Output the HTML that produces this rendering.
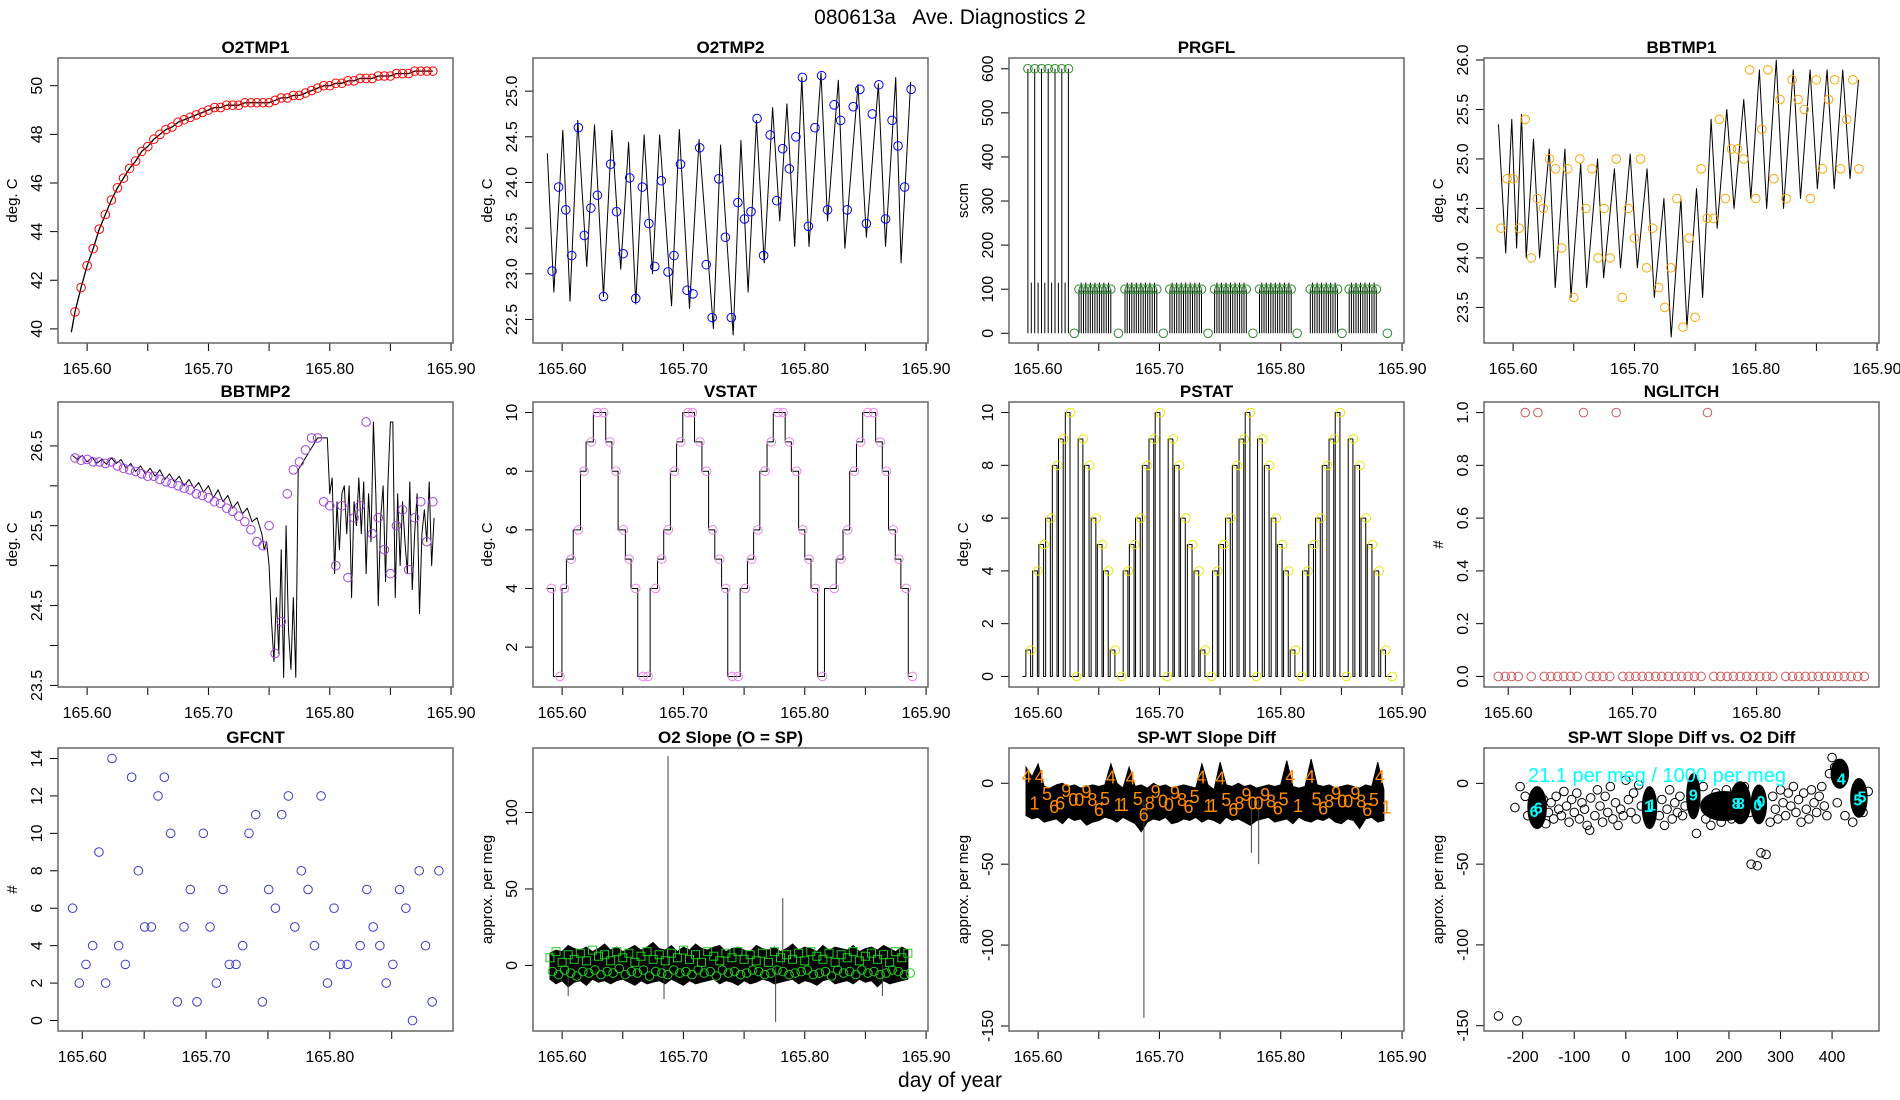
<!DOCTYPE html>
<html><head><meta charset="utf-8"><title>080613a Ave. Diagnostics 2</title>
<style>
html,body{margin:0;padding:0;background:#fff;}
svg{display:block;font-family:"Liberation Sans",Arial,sans-serif;}
</style></head>
<body>
<svg id="chart" xmlns="http://www.w3.org/2000/svg" width="1900" height="1100" viewBox="0 0 1900 1100">
<rect x="0" y="0" width="1900" height="1100" fill="#fff"/>
<text x="950" y="24" font-size="21" text-anchor="middle" style="white-space:pre" xml:space="preserve">080613a   Ave. Diagnostics 2</text>
<text x="950" y="1087" font-size="21" text-anchor="middle">day of year</text>
</svg>
<script>
// ---------- data ----------
const sampleT=[165.590,165.595,165.600,165.605,165.610,165.615,165.620,165.625,165.630,165.635,
165.640,165.645,165.650,165.655,165.660,165.665,165.670,165.675,165.680,165.685,
165.690,165.695,165.700,165.705,165.710,165.715,165.720,165.725,165.730,165.735,
165.740,165.745,165.750,165.755,165.760,165.765,165.770,165.775,165.780,165.785,
165.790,165.795,165.800,165.805,165.810,165.815,165.820,165.825,165.830,165.835,
165.840,165.845,165.850,165.855,165.860,165.865,165.870,165.875,165.880,165.885];
const o2tmp1Start=[165.587,39.86];
const o2tmp1Vals=[40.7,41.7,42.6,43.3,44.1,44.7,45.3,45.8,46.2,46.6,
46.9,47.3,47.5,47.8,48.0,48.2,48.3,48.5,48.6,48.7,
48.8,48.9,49.0,49.1,49.1,49.2,49.2,49.2,49.3,49.3,
49.3,49.3,49.3,49.4,49.5,49.5,49.6,49.6,49.7,49.8,
49.9,50.0,50.0,50.1,50.1,50.2,50.2,50.3,50.3,50.3,
50.4,50.4,50.4,50.5,50.5,50.5,50.6,50.6,50.6,50.6];

const o2tmp2LineT=[165.5878,165.5932,165.6006,165.6065,165.6129,165.6203,165.6267,165.6341,165.6410,165.6483,165.6548,165.6607,165.6676,165.6745,165.6804,165.6902,165.6966,165.7050,165.7129,165.7247,165.7306,165.7410,165.7474,165.7533,165.7602,165.7666,165.7735,165.7794,165.7853,165.7917,165.7976,165.8035,165.8134,165.8188,165.8277,165.8331,165.8439,165.8508,165.8607,165.8666,165.8750,165.8794,165.8873];
const o2tmp2LineV=[24.32,22.8,24.57,22.7,24.68,23.08,24.63,22.75,24.57,23.05,24.44,22.67,24.52,23.0,24.52,22.65,24.58,22.62,24.47,22.4,24.41,22.33,24.46,22.8,24.68,23.12,24.82,23.58,24.86,23.3,25.15,23.3,25.2,23.58,25.12,23.28,25.07,23.4,25.08,23.3,25.15,23.12,25.1];
const o2tmp2PtT=[165.5917,165.5971,165.6030,165.6079,165.6134,165.6183,165.6237,165.6291,165.6341,165.6400,165.6449,165.6503,165.6557,165.6607,165.6661,165.6715,165.6764,165.6818,165.6873,165.6922,165.6976,165.7030,165.7079,165.7134,165.7188,165.7237,165.7291,165.7346,165.7395,165.7449,165.7503,165.7557,165.7607,165.7661,165.7715,165.7769,165.7818,165.7873,165.7927,165.7981,165.8030,165.8084,165.8139,165.8188,165.8242,165.8296,165.8350,165.8400,165.8454,165.8508,165.8557,165.8611,165.8666,165.8720,165.8769,165.8823,165.8877];
const o2tmp2PtV=[23.03,23.95,23.7,23.2,24.6,23.42,23.72,23.86,22.75,24.2,23.68,23.22,24.05,22.73,23.95,23.55,23.08,24.02,23.02,23.2,24.2,22.82,22.78,24.38,23.1,22.52,24.04,23.4,22.52,23.78,23.6,23.68,24.7,23.2,24.52,23.8,24.37,24.15,24.5,25.15,23.52,24.6,25.17,23.7,24.85,24.68,23.7,24.83,25.02,23.55,24.75,25.07,23.6,24.68,24.4,23.95,25.02];

const prgflT=[165.5916,165.5972,165.6028,165.6083,165.6139,165.6195,165.6250,
165.6298,165.6337,165.6374,165.6412,165.6449,165.6487,165.6524,165.6561,165.6599,
165.6662,165.6716,165.6753,165.6791,165.6828,165.6866,165.6903,165.6940,165.6978,
165.7032,165.7086,165.7123,165.7161,165.7198,165.7235,165.7273,165.7310,165.7347,
165.7401,165.7455,165.7492,165.7530,165.7567,165.7604,165.7642,165.7679,165.7716,
165.7771,165.7825,165.7862,165.7899,165.7937,165.7974,165.8011,165.8049,165.8086,
165.8135,165.8244,165.8281,165.8318,165.8356,165.8393,165.8430,165.8468,
165.8505,165.8564,165.8601,165.8639,165.8676,165.8713,165.8751,165.8788,165.8879];
const prgflV=[600,600,600,600,600,600,600,
0,100,100,100,100,100,100,100,100,
0,100,100,100,100,100,100,100,100,
0,100,100,100,100,100,100,100,100,
0,100,100,100,100,100,100,100,100,
0,100,100,100,100,100,100,100,100,
0,100,100,100,100,100,100,100,
0,100,100,100,100,100,100,100,0];

const bbtmp1LineT=[165.5879,165.5939,165.5989,165.6029,165.6069,165.6108,165.6168,165.6218,165.6298,165.6347,165.6427,165.6477,165.6557,165.6606,165.6696,165.6746,165.6835,165.6885,165.6965,165.7024,165.7104,165.7164,165.7243,165.7303,165.7383,165.7433,165.7512,165.7562,165.7632,165.7682,165.7761,165.7821,165.7901,165.7960,165.8030,165.8090,165.8169,165.8229,165.8309,165.8369,165.8448,165.8508,165.8588,165.8647,165.8717,165.8777,165.8847];
const bbtmp1LineV=[25.35,24.05,25.4,24.1,25.45,24.0,25.2,24.0,25.1,23.7,25.1,23.6,24.95,23.7,25.0,23.8,24.9,23.9,25.05,23.9,24.9,23.6,24.6,23.2,24.6,23.3,24.7,23.6,25.4,24.3,25.5,24.5,25.6,24.6,25.9,24.5,26.0,24.5,25.9,24.6,25.9,24.7,25.9,24.7,25.9,24.8,25.8];
const bbtmp1PtV=[24.3,24.8,24.8,24.3,25.4,24.0,24.6,24.5,25.0,24.9,24.1,24.9,23.6,25.0,24.5,24.9,24.0,24.5,24.0,25.0,23.6,24.5,24.2,25.0,23.9,24.3,23.7,23.5,23.9,24.6,23.3,24.2,23.4,24.9,24.4,24.4,25.4,24.6,25.1,25.1,25.0,25.9,24.6,25.3,25.9,24.8,25.6,24.6,25.8,25.6,25.5,24.6,25.8,24.9,25.6,25.8,24.9,25.4,25.8,24.9];

const bbtmp2LineT=[165.588,165.592,165.596,165.600,165.604,165.608,165.612,165.616,165.620,165.624,165.628,165.632,165.636,165.640,165.644,165.648,165.652,165.656,165.660,165.664,165.668,165.672,165.676,165.680,165.684,165.688,165.692,165.696,165.700,165.704,165.708,165.712,165.716,165.720,165.724,165.728,165.732,165.736,165.740,165.744,
165.746,165.748,165.750,165.752,165.754,165.756,165.758,165.760,165.762,165.764,165.766,165.768,165.770,165.772,165.774,165.776,165.778,165.780,165.782,165.784,165.786,165.788,165.790,165.792,165.794,165.796,165.798,165.800,165.802,165.804,165.806,165.808,165.810,165.812,165.814,165.816,165.818,165.820,165.822,165.824,165.826,165.828,165.830,165.832,165.834,165.836,165.838,165.840,165.842,165.844,165.846,165.848,165.850,165.852,165.854,165.856,165.858,165.860,165.862,165.864,165.866,165.868,165.870,165.872,165.874,165.876,165.878,165.880,165.882,165.884,165.886];
const bbtmp2LineV=[26.38,26.33,26.38,26.30,26.36,26.28,26.33,26.27,26.35,26.28,26.33,26.22,26.28,26.18,26.25,26.15,26.22,26.12,26.2,26.08,26.15,26.05,26.12,26.0,26.08,25.97,26.04,25.92,26.0,25.85,25.95,25.8,25.88,25.72,25.8,25.65,25.72,25.55,25.6,25.4,
25.2,25.3,25.0,24.3,23.8,24.6,23.9,25.2,23.6,25.5,24.2,23.7,24.6,23.6,26.2,26.25,26.3,26.35,26.4,26.45,26.5,26.55,26.6,26.6,26.6,26.6,26.6,25.9,26.1,24.9,25.8,25.2,25.9,26.0,25.4,26.0,24.6,25.8,25.5,26.1,25.4,26.05,24.9,25.9,25.3,26.8,25.9,24.5,25.6,26.0,24.8,26.05,26.8,26.8,24.6,25.9,25.0,25.8,25.3,24.9,26.05,24.7,25.4,25.9,24.4,25.4,25.7,25.3,26.05,25.0,25.6];
const bbtmp2PtV=[26.35,26.32,26.33,26.3,26.3,26.28,26.3,26.25,26.22,26.2,26.18,26.15,26.12,26.12,26.08,26.05,26.03,26.0,25.97,25.95,25.9,25.88,25.85,25.8,25.78,25.72,25.68,25.62,25.55,25.45,25.3,
25.25,25.5,23.9,24.3,25.9,26.2,26.3,26.45,26.6,26.6,25.8,25.75,25.0,25.75,24.85,25.6,25.75,26.8,25.4,25.6,25.2,24.9,25.5,25.7,24.95,25.6,25.8,25.3,25.8];

const vstatT=[165.5912,165.5982,165.6019,165.6075,165.6135,165.6181,165.6241,165.6292,165.6343,165.6394,165.6445,165.6505,165.6552,165.6607,165.6668,165.6709,165.6770,165.6821,165.6876,165.6927,165.6978,165.7038,165.7075,165.7136,165.7191,165.7242,165.7298,165.7349,165.7404,165.7451,165.7511,165.7562,165.7613,165.7673,165.7724,165.7780,165.7822,165.7873,165.7933,165.7984,165.8035,165.8090,165.8146,165.8243,165.8299,165.8354,165.8410,165.8461,165.8521,165.8568,165.8623,165.8674,165.8730,165.8776,165.8837,165.8887];
const vstatV=[4,1,4,5,6,8,9,10,10,9,8,6,5,4,1,1,4,5,6,8,9,10,10,9,8,6,5,4,1,1,4,5,6,8,9,10,10,9,8,6,5,4,1,4,5,6,8,9,10,10,9,8,6,5,4,1];

const pstatT=[165.5942,165.5998,165.6049,165.6105,165.6160,165.6211,165.6267,165.6318,165.6373,165.6424,165.6480,165.6531,165.6582,165.6637,165.6688,165.6744,165.6795,165.6846,165.6902,165.6957,165.7008,165.7064,165.7115,165.7166,165.7217,165.7273,165.7328,165.7379,165.7430,165.7481,165.7532,165.7588,165.7644,165.7699,165.7750,165.7801,165.7852,165.7908,165.7964,165.8015,165.8066,165.8121,165.8172,165.8223,165.8274,165.8330,165.8385,165.8441,165.8492,165.8543,165.8599,165.8654,165.8705,165.8756,165.8812,165.8867,165.8918];
const pstatV=[1,4,5,6,8,9,10,0,9,8,6,5,4,1,0,4,5,6,8,9,10,0,9,8,6,5,4,1,0,4,5,6,8,9,10,0,9,8,6,5,4,1,0,4,5,6,8,9,10,0,9,8,6,5,4,1,0];

const nglitchT=[165.5920,165.5976,165.6027,165.6081,165.6185,165.6290,165.6343,165.6397,165.6448,165.6502,165.6555,165.6657,165.6711,165.6764,165.6818,165.6923,165.6974,165.7027,165.7078,165.7132,165.7186,165.7236,165.7290,165.7344,165.7395,165.7448,165.7499,165.7553,165.7655,165.7709,165.7762,165.7813,165.7867,165.7920,165.7971,165.8025,165.8079,165.8130,165.8234,165.8288,165.8339,165.8392,165.8446,165.8497,165.8551,165.8602,165.8655,165.8706,165.8760,165.8814,165.8867,
165.6137,165.6239,165.6606,165.6869,165.7604];
const nglitchV=[0,0,0,0,0,0,0,0,0,0,0,0,0,0,0,0,0,0,0,0,0,0,0,0,0,0,0,0,0,0,0,0,0,0,0,0,0,0,0,0,0,0,0,0,0,0,0,0,0,0,0,
1,1,1,1,1];

const gfcntT=[165.5922,165.5976,165.6030,165.6084,165.6135,165.6189,165.6240,165.6294,165.6348,165.6399,165.6453,165.6504,165.6558,165.6612,165.6663,165.6714,165.6768,165.6822,165.6873,165.6927,165.6978,165.7032,165.7083,165.7137,165.7188,165.7242,165.7296,165.7347,165.7401,165.7455,165.7506,165.7560,165.7611,165.7665,165.7717,165.7770,165.7824,165.7876,165.7929,165.7981,165.8034,165.8086,165.8140,165.8245,165.8299,165.8350,165.8404,165.8455,165.8509,165.8563,165.8614,165.8668,165.8722,165.8773,165.8827,165.8881];
const gfcntV=[6,2,3,4,9,2,14,4,3,13,8,5,5,12,13,10,1,5,7,1,10,5,2,7,3,3,4,10,11,1,7,6,11,12,5,8,7,4,12,2,6,3,3,4,7,5,4,2,3,7,6,0,8,4,1,8];

const o2slopeHi=[8,10,9,13,11,10,12,9,11,14,10,12,9,11,13,10,12,15,11,10,13,9,12,10,14,11,10,12,13,9,11,12,10,9,13,11,10,12,9,11,14,10,12,11,9,13,10,12,11,10,13,9,11,12,10,13,11,9,12,10];
const o2slopeLo=[-9,-12,-10,-14,-11,-10,-13,-9,-11,-10,-12,-10,-9,-11,-13,-10,-12,-11,-10,-12,-9,-11,-13,-10,-12,-11,-10,-9,-12,-10,-11,-13,-10,-12,-11,-9,-10,-12,-11,-10,-9,-12,-10,-11,-13,-10,-9,-12,-11,-10,-12,-9,-11,-10,-14,-10,-12,-11,-10,-9];
const o2slopeSq=[5,9,2,7,4,8,3,10,6,7,3,9,5,8,2,6,9,4,7,3,8,5,10,4,7,2,9,6,3,8,5,9,4,7,3,8,2,9,5,7,4,8,3,9,6,4,8,2,7,5,9,3,6,8,4,7,2,9,5,8];
const o2slopeCi=[-4,-6,-3,-5,-7,-4,-5,-3,-6,-4,-5,-2,-6,-4,-5,-3,-7,-4,-5,-6,-3,-5,-4,-6,-3,-5,-4,-7,-3,-5,-4,-6,-5,-3,-4,-6,-5,-3,-4,-6,-5,-4,-3,-6,-5,-4,-7,-3,-5,-4,-6,-3,-5,-4,-6,-5,-3,-4,-6,-5];
const o2slopeSpikeT=[165.6873,165.6840,165.7819,165.7760,165.6050,165.8640];
const o2slopeSpikeV=[137,-22,44,-37,-20,-20];

const spwtHi=[10,4,12,-2,-3,-1,0,-2,-1,-3,-2,-1,-2,-1,12,0,-3,10,-2,-1,-3,0,-2,-1,-3,-2,-1,-2,-3,12,-1,-4,13,-1,-2,0,-2,-1,-3,-2,-1,-2,-1,14,-2,-3,-2,15,-1,-2,-1,-3,-2,-1,-2,-3,-1,-2,13,-4];
const spwtLo=[-20,-22,-21,-24,-23,-22,-25,-21,-23,-22,-26,-24,-23,-21,-22,-24,-21,-23,-25,-30,-24,-22,-23,-21,-25,-24,-22,-23,-21,-24,-22,-23,-25,-21,-23,-22,-24,-26,-23,-22,-21,-24,-23,-22,-25,-21,-23,-24,-22,-23,-21,-24,-25,-22,-23,-28,-22,-21,-24,-23];
const spwtLabT=[165.5906,165.5970,165.6014,165.6073,165.6132,165.6181,165.6231,165.6290,165.6339,165.6398,165.6447,165.6501,165.6551,165.6600,165.6664,165.6708,165.6763,165.6822,165.6871,165.6920,165.6969,165.7029,165.7078,165.7127,165.7186,165.7240,165.7290,165.7344,165.7403,165.7442,165.7502,165.7551,165.7610,165.7659,165.7718,165.7768,165.7817,165.7871,165.7920,165.7975,165.8024,165.8078,165.8142,165.8241,165.8295,165.8349,165.8398,165.8457,165.8507,165.8556,165.8615,165.8664,165.8713,165.8768,165.8817,165.8871];
const spwtLabV=[4.1,-12.4,4,-6.6,-14.8,-12.4,-4.8,-10.3,-10.3,-5.3,-10.3,-16.5,-9.6,3.6,-13.3,-13.3,3,-9.6,-19.5,-12.4,-5.3,-11.4,-13.3,-5.9,-10.3,-14.8,-8.6,3.6,-14,-14,3,-10.3,-16.5,-12.4,-7.3,-12.4,-12.4,-7.3,-11.4,-15.7,-10,4,-14,4,-10,-15.7,-11.4,-6.4,-11.4,-11.4,-6.4,-11.4,-16.5,-10.3,4,-15];
const spwtLabTxt=['4','1','4','5','6','6','9','0','0','9','8','6','5','4','1','1','4','5','6','8','9','0','0','9','8','6','5','4','1','1','4','5','6','8','9','0','0','9','8','6','5','4','1','4','5','6','8','9','0','0','9','8','6','5','4','1'];
const spwtSpikeT=[165.6872,165.7758,165.7818];
const spwtSpikeV=[-145,-43,-50];

const scatX=[-215,-205,-195,-190,-160,-155,-150,-145,-140,-135,-130,-125,-120,-115,-110,-105,-100,-95,-90,-85,-80,-75,-70,-68,-60,-55,-50,-45,-40,-35,-30,-25,-20,-15,-10,-5,0,5,10,15,20,25,30,65,70,75,80,85,90,95,100,105,110,115,137,150,155,160,165,170,175,180,185,195,205,230,240,243,255,262,272,280,285,290,295,300,305,310,315,320,325,330,335,340,345,350,355,360,365,370,375,380,385,390,395,400,405,410,425,440,460,470,-247,-211];
const scatY=[-15,-2,-8,-20,-10,-25,-18,-12,-22,-8,-16,-20,-5,-14,-24,-10,-18,-6,-22,-12,-16,-26,-29,-9,-20,-4,-14,-24,-8,-18,-2,-22,-12,-26,-16,-20,2,-10,-18,-6,-22,-1,-14,-20,-10,-26,-16,-4,-22,-12,-18,-8,-20,-14,-31,-2,-22,-12,-26,-18,-6,-16,-24,-4,-22,-2,-18,-50,-51,-43,-44,-24,-8,-16,-22,-4,-12,-20,-6,-14,-2,-18,-10,-24,-6,-16,-22,-4,-12,-18,-8,-2,-14,-20,6,16,10,-12,-20,-24,-18,-5,-144,-147];
const clusterX=[-172,46,131,190,222,258,415,452];
const clusterY=[-15,-15,-8,-14,-12,-13,6,-9];
const clusterSX=[18,14,13,45,20,15,17,16];
const clusterSY=[13,13,14,9,13,12,9,12];
const clusterLabX=[-178,-170,44,50,131,214,222,256,262,418,450,458];
const clusterLabY=[-17,-15,-14,-13,-7,-12,-12,-13,-11,3,-10,-8];
const clusterLabTxt=['6','6','1','1','9','8','8','0','0','4','5','5'];

// ---------- drawing ----------
const NS='http://www.w3.org/2000/svg';
const svg=document.getElementById('chart');
function mk(tag,attrs,parent){const e=document.createElementNS(NS,tag);for(const k in attrs)e.setAttribute(k,attrs[k]);parent.appendChild(e);return e;}
const colX=[58,533,1009,1484], rowY=[58,402,748], rowH=[285,285,283], W=395;
const timeTicks=[165.60,165.65,165.70,165.75,165.80,165.85,165.90];
const timeLabeled=[165.60,165.70,165.80,165.90];

function panel(key,col,row,xd,yd,title,ytitle,xt,xlab,xfmt,yt,ylab,yfmt){
  const x0=colX[col],y0=rowY[row],h=rowH[row];
  const g=mk('g',{},svg);
  
  
  const sx=v=>x0+(v-xd[0])/(xd[1]-xd[0])*W;
  const sy=v=>y0+h-(v-yd[0])/(yd[1]-yd[0])*h;
  const clipId='clip-'+key;
  const cp=mk('clipPath',{id:clipId},g);
  mk('rect',{x:x0,y:y0,width:W,height:h},cp);
  const plot=mk('g',{'clip-path':'url(#'+clipId+')'},g);
  
  
  const xs=xt.filter(v=>v>=xd[0]-1e-9&&v<=xd[1]+1e-9);
  const xa=mk('g',{},g);
  
  
  mk('line',{x1:sx(xs[0]),x2:sx(xs[xs.length-1]),y1:y0+h,y2:y0+h,stroke:'#000','stroke-width':1},xa);
  xs.forEach(v=>{
    mk('line',{x1:sx(v),x2:sx(v),y1:y0+h,y2:y0+h+8,stroke:'#000','stroke-width':1},xa);
    if(xlab.some(l=>Math.abs(l-v)<1e-9)){
      const t=mk('text',{x:sx(v),y:y0+h+31,'font-size':16,'text-anchor':'middle'},xa);
      
      
      t.textContent=xfmt(v);
    }
  });
  const ys=yt.filter(v=>v>=yd[0]&&v<=yd[1]);
  const ya=mk('g',{},g);
  
  
  mk('line',{x1:x0,x2:x0,y1:sy(ys[0]),y2:sy(ys[ys.length-1]),stroke:'#000','stroke-width':1},ya);
  ys.forEach(v=>{
    mk('line',{x1:x0-8,x2:x0,y1:sy(v),y2:sy(v),stroke:'#000','stroke-width':1},ya);
    if(ylab.some(l=>Math.abs(l-v)<1e-9)){
      const xx=x0-16, yy=sy(v);
      const t=mk('text',{x:xx,y:yy,'font-size':16,'text-anchor':'middle',transform:'rotate(-90 '+xx+' '+yy+')'},ya);
      
      
      t.textContent=yfmt(v);
    }
  });
  const yx=x0-41, yyc=y0+h/2;
  const yt2=mk('text',{x:yx,y:yyc,'font-size':15,'text-anchor':'middle',transform:'rotate(-90 '+yx+' '+yyc+')'},g);
  
  
  yt2.textContent=ytitle;
  const tt=mk('text',{x:x0+W/2,y:y0-5,'font-size':17,'font-weight':'bold','text-anchor':'middle'},g);
  
  
  tt.textContent=title;
  const box=mk('rect',{x:x0,y:y0,width:W,height:h,fill:'none',stroke:'#666','stroke-width':1.5},g);
  
  
  return {sx,sy,plot};
}
const f2=v=>v.toFixed(2), f1=v=>v.toFixed(1), f0=v=>String(Math.round(v));
function poly(p,pts,color,w,name){
  const e=mk('polyline',{points:pts.map(q=>q[0].toFixed(2)+','+q[1].toFixed(2)).join(' '),fill:'none',stroke:color,'stroke-width':w,'stroke-linejoin':'round'},p);
  
  
  return e;
}
function circ(p,x,y,color,name){
  const c=mk('circle',{cx:x,cy:y,r:4.3,fill:'none',stroke:color,'stroke-width':1},p);
  
  
}
const TD=[165.576,165.9016];

(function(){
  const P=panel('o2tmp1',0,0,TD,[39.42,51.14],'O2TMP1','deg. C',timeTicks,timeLabeled,f2,[40,42,44,46,48,50],[40,42,44,46,48,50],f0);
  const pts=[[P.sx(o2tmp1Start[0]),P.sy(o2tmp1Start[1])]];
  for(let i=0;i<o2tmp1Vals.length;i++)pts.push([P.sx(sampleT[i]),P.sy(o2tmp1Vals[i])]);
  poly(P.plot,pts,'#000',1.3,'o2tmp1-line');
  for(let i=0;i<o2tmp1Vals.length;i++)circ(P.plot,P.sx(sampleT[i]),P.sy(o2tmp1Vals[i]),'#ff0000','o2tmp1-point');
})();
(function(){
  const yt=[22.5,23.0,23.5,24.0,24.5,25.0];
  const P=panel('o2tmp2',1,0,TD,[22.242,25.363],'O2TMP2','deg. C',timeTicks,timeLabeled,f2,yt,yt,f1);
  poly(P.plot,o2tmp2LineT.map((t,i)=>[P.sx(t),P.sy(o2tmp2LineV[i])]),'#000',1,'o2tmp2-line');
  for(let i=0;i<Math.min(o2tmp2PtT.length,o2tmp2PtV.length);i++)circ(P.plot,P.sx(o2tmp2PtT[i]),P.sy(o2tmp2PtV[i]),'#0000ff','o2tmp2-point');
})();
(function(){
  const yt=[0,100,200,300,400,500,600];
  const P=panel('prgfl',2,0,TD,[-22,624.4],'PRGFL','sccm',timeTicks,timeLabeled,f2,yt,yt,f0);
  let d='';
  for(let i=0;i<prgflT.length;i++){
    if(prgflV[i]>0){
      d+='M'+P.sx(prgflT[i]).toFixed(1)+','+P.sy(0).toFixed(1)+'V'+P.sy(prgflV[i]*1.0).toFixed(1);
      if(i+1<prgflT.length&&prgflV[i+1]>0){
        const m=P.sx((prgflT[i]+prgflT[i+1])/2);
        d+='M'+m.toFixed(1)+','+P.sy(0).toFixed(1)+'V'+P.sy(Math.min(prgflV[i],100)*1.15).toFixed(1);
      }
    }
  }
  const ln=mk('path',{d:d,stroke:'#000','stroke-width':1,fill:'none'},P.plot);
  
  
  for(let i=0;i<prgflT.length;i++)circ(P.plot,P.sx(prgflT[i]),P.sy(prgflV[i]),'#2e8b2e','prgfl-point');
})();
(function(){
  const yt=[23.5,24.0,24.5,25.0,25.5,26.0];
  const P=panel('bbtmp1',3,0,TD,[23.14,26.02],'BBTMP1','deg. C',timeTicks,timeLabeled,f2,yt,yt,f1);
  poly(P.plot,bbtmp1LineT.map((t,i)=>[P.sx(t),P.sy(bbtmp1LineV[i])]),'#000',1,'bbtmp1-line');
  for(let i=0;i<Math.min(sampleT.length,bbtmp1PtV.length);i++)circ(P.plot,P.sx(sampleT[i]),P.sy(bbtmp1PtV[i]),'#ffa500','bbtmp1-point');
})();
(function(){
  const yt=[23.5,24.0,24.5,25.0,25.5,26.0,26.5];
  const P=panel('bbtmp2',0,1,TD,[23.48,27.05],'BBTMP2','deg. C',timeTicks,timeLabeled,f2,yt,[23.5,24.5,25.5,26.5],f1);
  const n=Math.min(bbtmp2LineT.length,bbtmp2LineV.length);
  const pts=[];for(let i=0;i<n;i++)pts.push([P.sx(bbtmp2LineT[i]),P.sy(bbtmp2LineV[i])]);
  poly(P.plot,pts,'#000',1,'bbtmp2-line');
  for(let i=0;i<Math.min(sampleT.length,bbtmp2PtV.length);i++)circ(P.plot,P.sx(sampleT[i]),P.sy(bbtmp2PtV[i]),'#a040e0','bbtmp2-point');
})();
(function(){
  const yt=[2,4,6,8,10];
  const P=panel('vstat',1,1,TD,[0.64,10.36],'VSTAT','deg. C',timeTicks,timeLabeled,f2,yt,yt,f0);
  const pts2=[[P.sx(165.587),P.sy(vstatV[0])],[P.sx(vstatT[0]),P.sy(vstatV[0])]];
  for(let i=1;i<vstatT.length;i++){const xa=P.sx(vstatT[i-1])+2;pts2.push([xa,P.sy(vstatV[i-1])]);pts2.push([xa,P.sy(vstatV[i])]);pts2.push([P.sx(vstatT[i]),P.sy(vstatV[i])]);}
  poly(P.plot,pts2,'#000',1,'vstat-line');
  for(let i=0;i<vstatT.length;i++)circ(P.plot,P.sx(vstatT[i]),P.sy(vstatV[i]),'#ee82ee','vstat-point');
})();
(function(){
  const yt=[0,2,4,6,8,10];
  const P=panel('pstat',2,1,TD,[-0.4,10.4],'PSTAT','deg. C',timeTicks,timeLabeled,f2,yt,yt,f0);
  const pts=[[P.sx(165.587),P.sy(0)]];
  for(let i=0;i<pstatT.length;i++){
    const a=P.sx(pstatT[i])-5.2,b=P.sx(pstatT[i])-0.5;
    pts.push([a,P.sy(0)]);pts.push([a,P.sy(pstatV[i])]);pts.push([b,P.sy(pstatV[i])]);pts.push([b,P.sy(0)]);
  }
  poly(P.plot,pts,'#000',1,'pstat-line');
  for(let i=0;i<pstatT.length;i++)circ(P.plot,P.sx(pstatT[i]),P.sy(pstatV[i]),'#e8e800','pstat-point');
})();
(function(){
  const yt=[0,0.2,0.4,0.6,0.8,1.0];
  const P=panel('nglitch',3,1,[165.5805,165.8985],[-0.04,1.04],'NGLITCH','#',timeTicks,timeLabeled,f2,yt,yt,f1);
  for(let i=0;i<nglitchT.length;i++)circ(P.plot,P.sx(nglitchT[i]),P.sy(nglitchV[i]),'#cd5c5c','nglitch-point');
})();
(function(){
  const yt=[0,2,4,6,8,10,12,14];
  const P=panel('gfcnt',0,2,[165.5804,165.8995],[-0.56,14.56],'GFCNT','#',timeTicks,timeLabeled,f2,yt,yt,f0);
  for(let i=0;i<gfcntT.length;i++)circ(P.plot,P.sx(gfcntT[i]),P.sy(gfcntV[i]),'#3a3ad0','gfcnt-point');
})();
(function(){
  const P=panel('o2slope',1,2,TD,[-42.9,142.2],'O2 Slope (O = SP)','approx. per meg',timeTicks,timeLabeled,f2,[0,50,100],[0,50,100],f0);
  const top=sampleT.map((t,i)=>[P.sx(t),P.sy(o2slopeHi[i])]);
  const bot=sampleT.map((t,i)=>[P.sx(t),P.sy(o2slopeLo[i])]).reverse();
  const band=mk('polygon',{points:top.concat(bot).map(q=>q[0].toFixed(1)+','+q[1].toFixed(1)).join(' '),fill:'#000',stroke:'#000','stroke-width':1},P.plot);
  
  
  for(let i=0;i<o2slopeSpikeT.length;i++){
    const s=mk('line',{x1:P.sx(o2slopeSpikeT[i]),x2:P.sx(o2slopeSpikeT[i]),y1:P.sy(0),y2:P.sy(o2slopeSpikeV[i]),stroke:'#444','stroke-width':1},P.plot);
    
    
  }
  for(let i=0;i<sampleT.length;i++){
    const x=P.sx(sampleT[i]),y=P.sy(o2slopeSq[i]);
    const r=mk('rect',{x:x-4,y:y-4,width:8,height:8,fill:'none',stroke:'#22cc22','stroke-width':1},P.plot);
    
    
    circ(P.plot,P.sx(sampleT[i])+2.5,P.sy(o2slopeCi[i]),'#22cc22','o2slope-circle-point');
  }
})();
(function(){
  const yt=[0,-50,-100,-150];
  const P=panel('spwt',2,2,TD,[-153.1,21.8],'SP-WT Slope Diff','approx. per meg',timeTicks,timeLabeled,f2,yt,yt,f0);
  const top=sampleT.map((t,i)=>[P.sx(t),P.sy(spwtHi[i])]);
  const bot=sampleT.map((t,i)=>[P.sx(t),P.sy(spwtLo[i])]).reverse();
  const band=mk('polygon',{points:top.concat(bot).map(q=>q[0].toFixed(1)+','+q[1].toFixed(1)).join(' '),fill:'#000',stroke:'#000','stroke-width':1},P.plot);
  
  
  for(let i=0;i<spwtSpikeT.length;i++){
    const s=mk('line',{x1:P.sx(spwtSpikeT[i]),x2:P.sx(spwtSpikeT[i]),y1:P.sy(-10),y2:P.sy(spwtSpikeV[i]),stroke:'#444','stroke-width':1},P.plot);
    
    
  }
  for(let i=0;i<spwtLabT.length;i++){
    const t=mk('text',{x:P.sx(spwtLabT[i]),y:P.sy(spwtLabV[i])+6,'font-size':18,'text-anchor':'middle',fill:'#ff8c00'},P.plot);
    
    
    t.textContent=spwtLabTxt[i];
  }
})();
(function(){
  const xt=[-200,-100,0,100,200,300,400], yt=[0,-50,-100,-150];
  const P=panel('scatter',3,2,[-275,491],[-153.3,21.9],'SP-WT Slope Diff vs. O2 Diff','approx. per meg',xt,xt,f0,yt,yt,f0);
  for(let i=0;i<clusterX.length;i++){
    const e=mk('ellipse',{cx:P.sx(clusterX[i]),cy:P.sy(clusterY[i]),rx:clusterSX[i]*0.5155,ry:clusterSY[i]*1.615,fill:'#000',stroke:'#000','stroke-width':1},P.plot);
    
    
  }
  for(let i=0;i<scatX.length;i++)circ(P.plot,P.sx(scatX[i]),P.sy(scatY[i]),'#000','scatter-point');
  for(let i=0;i<clusterLabX.length;i++){
    const t=mk('text',{x:P.sx(clusterLabX[i]),y:P.sy(clusterLabY[i])+6,'font-size':16,'font-weight':'bold','text-anchor':'middle',fill:'#00ffff'},P.plot);
    
    
    t.textContent=clusterLabTxt[i];
  }
  const a=mk('text',{x:1528,y:782,'font-size':20,fill:'#00ffff'},P.plot);
  
  
  a.textContent='21.1 per meg / 1000 per meg';
})();
</script>
</body></html>
